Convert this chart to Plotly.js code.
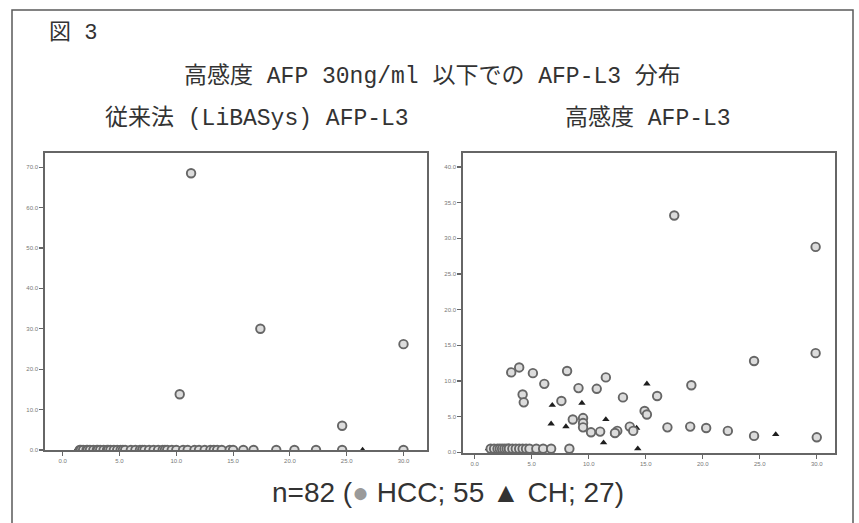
<!DOCTYPE html>
<html>
<head>
<meta charset="utf-8">
<script src="https://cdn.plot.ly/plotly-3.0.1.min.js"></script>
<style>html,body{margin:0;padding:0;background:#fff;}#chart{width:859px;height:523px;}</style>
</head>
<body>
<div id="chart"></div>
<script>
// ---- Data: left panel (従来法 LiBASys AFP-L3) ----
const leftHccX = [11.3, 17.4, 10.3, 30.0, 24.6,
  1.5, 1.6, 1.8, 2.1, 2.2, 2.4, 2.7, 3.0, 3.1, 3.3, 3.6, 3.9, 4.0, 4.2, 4.5, 4.8, 5.1, 5.3, 5.5,
  6.0, 6.4, 6.8, 7.0, 7.2, 7.6, 8.0, 8.4, 8.8, 9.0, 9.2, 9.6, 10.0, 10.6, 11.0, 11.6, 12.0, 12.5,
  13.0, 13.3, 13.6, 14.0, 14.7, 15.0, 15.9, 16.8, 18.8, 20.4, 22.3, 24.6, 30.0];
const leftHccY = [68.5, 30.0, 13.8, 26.2, 6.0,
  0, 0, 0, 0, 0, 0, 0, 0, 0, 0, 0, 0, 0, 0, 0, 0, 0, 0, 0,
  0, 0, 0, 0, 0, 0, 0, 0, 0, 0, 0, 0, 0, 0, 0, 0, 0, 0,
  0, 0, 0, 0, 0, 0, 0, 0, 0, 0, 0, 0, 0];
const leftChX = [1.2, 1.5, 1.8, 2.1, 2.3, 2.5, 2.7, 2.9, 3.1, 3.4, 3.8, 4.1, 4.4, 5.0, 5.2, 5.5,
  6.7, 6.8, 8.0, 9.4, 11.3, 11.5, 12.2, 14.2, 14.3, 15.1, 26.4];
const leftChY = [0, 0, 0, 0, 0, 0, 0, 0, 0, 0, 0, 0, 0, 0, 0, 0,
  0, 0, 0, 0, 0, 0, 0, 0, 0, 0, 0];

// ---- Data: right panel (高感度 AFP-L3) ----
const rightHccX = [17.5, 29.9, 29.9, 24.5, 19.0, 16.0, 14.9, 15.1, 16.9, 18.9, 20.3, 22.2, 24.5, 30.0,
  13.0, 11.5, 10.7, 9.1, 8.1, 6.1, 5.1, 3.9, 3.2, 4.2, 4.3, 7.6, 8.6, 9.5, 9.5, 9.5,
  10.2, 11.0, 12.5, 12.3, 13.6, 13.9,
  1.4, 1.7, 2.0, 2.2, 2.4, 2.6, 2.8, 3.0, 3.0, 3.3, 3.6, 3.9, 4.2, 4.5, 4.8, 5.4, 6.0, 6.7, 8.3];
const rightHccY = [33.2, 28.8, 13.9, 12.8, 9.4, 7.9, 5.8, 5.3, 3.5, 3.6, 3.4, 3.0, 2.3, 2.1,
  7.7, 10.5, 8.9, 9.0, 11.4, 9.6, 11.1, 11.9, 11.2, 8.1, 7.0, 7.2, 4.6, 4.8, 4.1, 3.5,
  2.8, 2.9, 3.0, 2.7, 3.6, 3.0,
  0.5, 0.5, 0.5, 0.5, 0.5, 0.5, 0.5, 0.5, 0.5, 0.5, 0.5, 0.5, 0.5, 0.5, 0.5, 0.5, 0.5, 0.5, 0.5];
const rightChX = [15.1, 9.4, 6.8, 6.7, 8.0, 11.5, 11.3, 12.2, 14.2, 14.3, 26.4,
  1.2, 1.5, 1.8, 2.1, 2.3, 2.5, 2.7, 2.9, 3.1, 3.4, 3.8, 4.1, 4.4, 5.0, 5.2, 5.5];
const rightChY = [9.6, 6.9, 6.6, 4.0, 3.6, 4.6, 1.35, 2.6, 3.4, 0.5, 2.5,
  0.5, 0.5, 0.5, 0.5, 0.5, 0.5, 0.5, 0.5, 0.5, 0.5, 0.5, 0.5, 0.5, 0.5, 0.5, 0.5];

// ---- Text ----
const figLabel = '図 3';
const mainTitle = '高感度 AFP 30ng/ml 以下での AFP-L3 分布';
const leftTitle = '従来法 (LiBASys) AFP-L3';
const rightTitle = '高感度 AFP-L3';
const legendText = 'n=82 (<span style="color:#9a9a9a">●</span> HCC; 55 ▲ CH; 27)';
const leftYTicks = [0, 10, 20, 30, 40, 50, 60, 70];
const rightYTicks = [0, 5, 10, 15, 20, 25, 30, 35, 40];
const xTicks = [0, 5, 10, 15, 20, 25, 30];

const W = 859, H = 523;
const px = v => v / W;
const py = v => (H - v) / H;

const circ = {symbol: 'circle', size: 8.5, color: '#dcdcdc', line: {color: '#666666', width: 1.9}};
const tri = {symbol: 'triangle-up', size: 6.5, color: '#1e1e1e', line: {width: 0}};

const traces = [
  {x: leftChX, y: leftChY, xaxis: 'x', yaxis: 'y', mode: 'markers', type: 'scatter', marker: tri, cliponaxis: true},
  {x: leftHccX, y: leftHccY, xaxis: 'x', yaxis: 'y', mode: 'markers', type: 'scatter', marker: circ, cliponaxis: true},
  {x: rightChX, y: rightChY, xaxis: 'x2', yaxis: 'y2', mode: 'markers', type: 'scatter', marker: tri, cliponaxis: true},
  {x: rightHccX, y: rightHccY, xaxis: 'x2', yaxis: 'y2', mode: 'markers', type: 'scatter', marker: circ, cliponaxis: true}
];

const axBase = {
  showline: true, mirror: true, linecolor: '#666666', linewidth: 1.8,
  showgrid: false, zeroline: false,
  ticks: 'outside', ticklen: 4, tickwidth: 1.2, tickcolor: '#666666',
  tickfont: {size: 6, color: '#777', family: 'Liberation Sans'},
  tickformat: '.1f', fixedrange: true
};

const titleFont = {family: 'Liberation Mono, Noto Sans CJK JP', size: 23, color: '#333'};

const layout = {
  width: W, height: H,
  margin: {l: 0, r: 0, t: 0, b: 0},
  paper_bgcolor: '#ffffff', plot_bgcolor: '#ffffff',
  showlegend: false,
  xaxis: Object.assign({}, axBase, {domain: [px(45), px(427)], range: [-1.56, 32.07], tickvals: xTicks, anchor: 'y'}),
  yaxis: Object.assign({}, axBase, {domain: [py(450), py(153)], range: [0, 73.5], tickvals: leftYTicks, anchor: 'x'}),
  xaxis2: Object.assign({}, axBase, {domain: [px(463), px(835)], range: [-1.03, 31.6], tickvals: xTicks, anchor: 'y2'}),
  yaxis2: Object.assign({}, axBase, {domain: [py(453), py(153)], range: [-0.1, 41.97], tickvals: rightYTicks, anchor: 'x2'}),
  shapes: [
    {type: 'rect', xref: 'paper', yref: 'paper', x0: px(12), x1: px(853), y0: -0.05, y1: py(10),
     line: {color: '#5a5a5a', width: 1.5}}
  ],
  annotations: [
    {text: figLabel, xref: 'paper', yref: 'paper', x: px(47), y: py(33), xanchor: 'left', yanchor: 'middle', showarrow: false,
     font: {family: 'Liberation Mono, Noto Sans CJK JP', size: 22, color: '#333'}},
    {text: mainTitle, xref: 'paper', yref: 'paper', x: px(432), y: py(76), xanchor: 'center', yanchor: 'middle', showarrow: false,
     font: titleFont},
    {text: leftTitle, xref: 'paper', yref: 'paper', x: px(257), y: py(118), xanchor: 'center', yanchor: 'middle', showarrow: false,
     font: titleFont},
    {text: rightTitle, xref: 'paper', yref: 'paper', x: px(648), y: py(118), xanchor: 'center', yanchor: 'middle', showarrow: false,
     font: titleFont},
    {text: legendText, xref: 'paper', yref: 'paper', x: px(448), y: py(492), xanchor: 'center', yanchor: 'middle', showarrow: false,
     font: {family: 'Liberation Sans, Arial, sans-serif', size: 28, color: '#333'}}
  ]
};

Plotly.newPlot('chart', traces, layout, {staticPlot: true, displayModeBar: false});
</script>
</body>
</html>
